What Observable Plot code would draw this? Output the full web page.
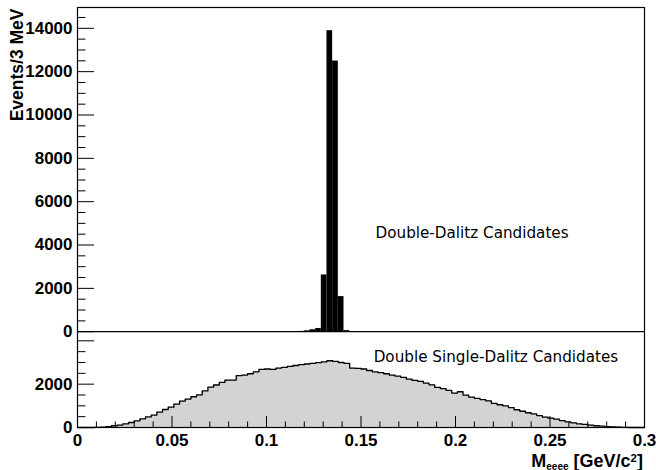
<!DOCTYPE html>
<html>
<head>
<meta charset="utf-8">
<script src="https://cdn.jsdelivr.net/npm/d3@7"></script>
<script src="https://cdn.jsdelivr.net/npm/@observablehq/plot@0.6"></script>
<style>
  html, body { margin: 0; padding: 0; background: white; }
  #chart svg { display: block; }
</style>
</head>
<body>
<div id="chart"></div>
<script>
// ---- data ----
const binWidth = 0.003; // GeV (3 MeV bins)
const nBins = 100;
// Double-Dalitz candidates (top panel), bins 0..99
const doubleDalitz = [
  0,0,0,0,0,0,0,0,0,0,
  0,0,0,0,0,0,0,0,0,0,
  0,0,0,0,0,0,0,0,0,0,
  0,0,0,0,0,0,0,0,5,15,
  40,90,150,2620,13890,12490,1620,50,10,0,
  0,0,0,0,0,0,0,0,0,0,
  0,0,0,0,0,0,0,0,0,0,
  0,0,0,0,0,0,0,0,0,0,
  0,0,0,0,0,0,0,0,0,0,
  0,0,0,0,0,0,0,0,0,0
];
// Double Single-Dalitz candidates (bottom panel), bins 0..99
const doubleSingleDalitz = [
  0,0,0,10,20,40,80,110,170,230,
  310,400,490,570,710,830,940,1080,1220,1310,
  1420,1510,1690,1860,1960,2080,2190,2190,2390,2420,
  2480,2570,2680,2700,2680,2740,2770,2820,2860,2900,
  2930,2960,2990,3030,3080,3050,3000,2960,2740,2730,
  2700,2630,2570,2530,2480,2420,2370,2310,2230,2170,
  2130,2050,1970,1850,1790,1710,1590,1650,1490,1400,
  1340,1290,1230,1110,1050,1000,920,820,750,680,
  630,550,480,430,385,320,260,215,170,140,
  110,80,60,45,30,20,10,0,0,0
];
const xTickValues = [0, 0.05, 0.1, 0.15, 0.2, 0.25, 0.3];
const xTickLabels = ["0", "0.05", "0.1", "0.15", "0.2", "0.25", "0.3"];
const yTopTicks = [0, 2000, 4000, 6000, 8000, 10000, 12000, 14000];
const yTopMax = 14960;
const yBottomTicks = [0, 2000, 4000];
const yBottomLabels = [0, 2000];
const yBottomMax = 4420;
const labelTop = "Double-Dalitz Candidates";
const labelBottom = "Double Single-Dalitz Candidates";
const yTitle = "Events/3 MeV";

// ---- derived tables ----
const OFFSET = yBottomMax; // top panel sits above bottom panel
const lower = doubleSingleDalitz.map((v, i) => ({x: i * binWidth, v}));
lower.push({x: nBins * binWidth, v: doubleSingleDalitz[nBins - 1]});
const upper = doubleDalitz
  .map((v, i) => ({x1: i * binWidth, x2: (i + 1) * binWidth, v}))
  .filter(d => d.v > 0);

const topMajor = yTopTicks.map(v => v + OFFSET);
const topMinor = d3.range(500, yTopMax, 500).filter(v => v % 2000 !== 0).map(v => v + OFFSET);
const botMajor = yBottomTicks;
const botMinor = d3.range(500, yBottomMax, 500).filter(v => v % 2000 !== 0);
const xMinor = d3.range(1, 30).map(i => i / 100).filter(v => Math.abs(v * 20 - Math.round(v * 20)) > 1e-6);

const W = 656, H = 470;
const mL = 77, mR = 12, mT = 7, mB = 43;
const fw = W - mL - mR, fh = H - mT - mB;
const font = "'Liberation Sans', Arial, Helvetica, sans-serif";

const plot = Plot.plot({
  width: W, height: H,
  marginLeft: mL, marginRight: mR, marginTop: mT, marginBottom: mB,
  x: {domain: [0, 0.3], axis: null},
  y: {domain: [0, OFFSET + yTopMax], axis: null},
  style: {fontFamily: font, background: "white", color: "black"},
  marks: [
    Plot.areaY(lower, {x: "x", y: "v", curve: "step-after", fill: "#d3d3d3"}),
    Plot.lineY(lower, {x: "x", y: "v", curve: "step-after", stroke: "black", strokeWidth: 1.3}),
    Plot.rectY(upper, {x1: "x1", x2: "x2", y1: d => OFFSET, y2: d => OFFSET + d.v, fill: "black", inset: 0}),
    Plot.ruleY([OFFSET], {stroke: "black", strokeWidth: 1.2}),
    // y ticks (inward, left side)
    Plot.tickY(topMajor.concat(botMajor), {y: d => d, insetRight: fw - 17, stroke: "black"}),
    Plot.tickY(topMinor.concat(botMinor), {y: d => d, insetRight: fw - 8.5, stroke: "black"}),
    // x ticks (inward, bottom)
    Plot.tickX(xTickValues, {x: d => d, insetTop: fh - 11, stroke: "black"}),
    Plot.tickX(xMinor, {x: d => d, insetTop: fh - 5.5, stroke: "black"}),
    Plot.frame({stroke: "black", strokeWidth: 1.2}),
    // y tick labels
    Plot.text(yTopTicks, {y: d => d + OFFSET, text: d => String(d), frameAnchor: "left", textAnchor: "end", dx: -5, fontSize: 17, fontWeight: "bold"}),
    Plot.text(yBottomLabels, {y: d => d, text: d => String(d), frameAnchor: "left", textAnchor: "end", dx: -5, fontSize: 17, fontWeight: "bold"}),
    // x tick labels
    Plot.text(xTickValues, {x: d => d, text: (d, i) => xTickLabels[i], frameAnchor: "bottom", lineAnchor: "top", dy: 6, fontSize: 17, fontWeight: "bold"}),
    // y title
    Plot.text([yTitle], {frameAnchor: "top-left", text: d => d, rotate: -90, textAnchor: "end", lineAnchor: "middle", dx: -60, dy: 1, fontSize: 17.5, fontWeight: "bold"}),
    // annotations
    Plot.text([labelTop], {x: 0.1577, y: OFFSET + 4560, text: d => d, textAnchor: "start", lineAnchor: "middle", fontSize: 15.2, fontFamily: "'DejaVu Sans', sans-serif"}),
    Plot.text([labelBottom], {x: 0.1567, y: 3270, text: d => d, textAnchor: "start", lineAnchor: "middle", fontSize: 15.2, fontFamily: "'DejaVu Sans', sans-serif"})
  ]
});

document.getElementById("chart").appendChild(plot);

// x-axis title with subscript / superscript
const svg = d3.select(plot);
const t = svg.append("text")
  .attr("x", 643).attr("y", 466.5)
  .attr("text-anchor", "end")
  .attr("font-family", font)
  .attr("font-weight", "bold")
  .attr("font-size", 18)
  .attr("fill", "black");
t.append("tspan").text("M");
t.append("tspan").attr("font-size", 10).attr("dy", 3).text("eeee");
t.append("tspan").attr("dy", -3).text(" [GeV/c");
t.append("tspan").attr("font-size", 11.5).attr("dy", -4.5).text("2");
t.append("tspan").attr("dy", 4.5).text("]");
</script>
</body>
</html>
